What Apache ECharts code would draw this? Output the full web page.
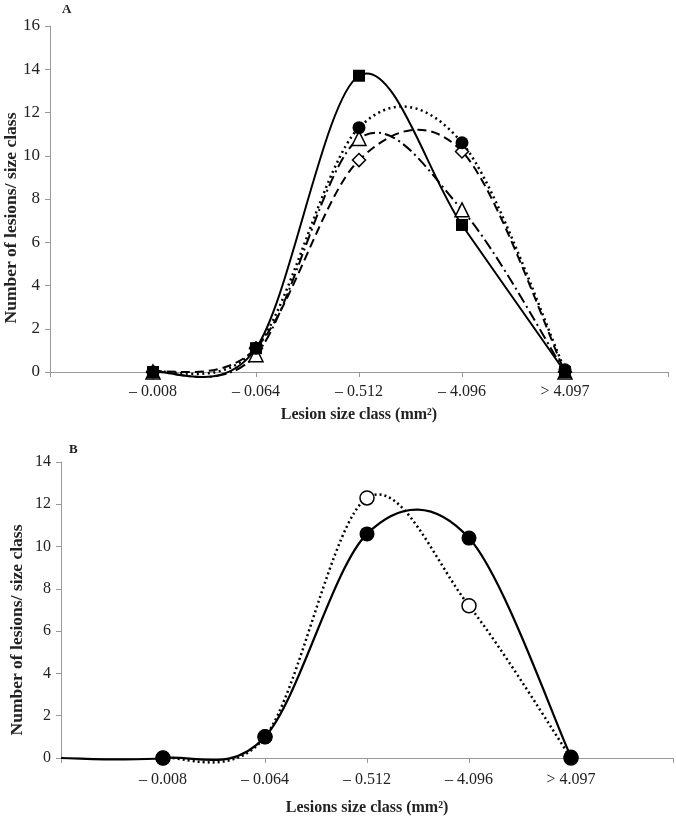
<!DOCTYPE html>
<html><head><meta charset="utf-8">
<script src="https://cdn.jsdelivr.net/npm/echarts@6/dist/echarts.min.js"></script>
<style>html,body{margin:0;padding:0;background:#fff}#c{width:676px;height:817px}</style>
</head><body><div id="c"></div>
<script>
var categories = ['', '\u2013 0.008', '\u2013 0.064', '\u2013 0.512', '\u2013 4.096', '> 4.097', ''];
// Panel A
var aSquare   = [null, 0, 1.1, 13.7, 6.8, 0, null];
var aCircle   = [null, 0, 1.1, 11.3, 10.6, 0.1, null];
var aTriangle = [null, 0, 0.8, 10.8, 7.5, 0, null];
var aDiamond  = [null, 0, 1.1, 9.8, 10.2, 0, null];
// Panel B (first value is the unmarked line start at the axis)
var bFilled = [0, 0, 1.0, 10.6, 10.4, 0.05, null];
var bOpen   = [null, 0, 1.0, 12.3, 7.2, 0, null];
var aTicks = {min: 0, max: 16, interval: 2};
var bTicks = {min: 0, max: 14, interval: 2};
var yName = 'Number of lesions/ size class';

var FONT = 'Liberation Serif';
var chart = echarts.init(document.getElementById('c'));
function xAx(gi, name, margin, gap) {
  return {
    type: 'category', gridIndex: gi, data: categories, boundaryGap: false,
    axisLine: {lineStyle: {color: '#999', width: 1}},
    axisTick: {show: true, length: 5, lineStyle: {color: '#999'}},
    axisLabel: {color: '#222', fontFamily: FONT, fontSize: 16, margin: margin, interval: 0},
    name: name, nameLocation: 'middle', nameGap: gap,
    nameTextStyle: {color: '#222', fontFamily: FONT, fontSize: 16, fontWeight: 'bold'}
  };
}
function yAx(gi, t, fs) {
  return {
    type: 'value', gridIndex: gi, min: t.min, max: t.max, interval: t.interval,
    axisLine: {show: true, lineStyle: {color: '#999', width: 1}},
    axisTick: {show: true, length: 5, lineStyle: {color: '#999'}},
    splitLine: {show: false},
    axisLabel: {color: '#222', fontFamily: FONT, fontSize: fs, margin: 10}
  };
}
// marker-only series
function marks(xi, data, symbol, size, fill, skipFirst) {
  return {
    type: 'line', xAxisIndex: xi, yAxisIndex: xi, data: data,
    symbol: function (v, p) { return (skipFirst && p.dataIndex === 0) ? 'none' : symbol; },
    symbolSize: size, showSymbol: true, connectNulls: false,
    itemStyle: {color: fill, borderColor: '#000', borderWidth: fill === '#fff' ? 1.5 : 0},
    lineStyle: {opacity: 0}, z: 5, animation: false
  };
}
// smoothed curve through the values (Catmull-Rom style, drawn with axis coords)
function curve(xi, values, dash, lw) {
  return {
    type: 'custom', xAxisIndex: xi, yAxisIndex: xi, data: [[0, 0]], clip: false, z: 3,
    animation: false, silent: true,
    renderItem: function (params, api) {
      var pts = [];
      for (var i = 0; i < values.length; i++) {
        if (values[i] != null) pts.push(api.coord([i, values[i]]));
      }
      var d = 'M' + pts[0][0] + ' ' + pts[0][1];
      for (var k = 0; k < pts.length - 1; k++) {
        var p0 = pts[Math.max(k - 1, 0)], p1 = pts[k], p2 = pts[k + 1], p3 = pts[Math.min(k + 2, pts.length - 1)];
        var c1x = p1[0] + (p2[0] - p0[0]) / 6, c1y = p1[1] + (p2[1] - p0[1]) / 6;
        var c2x = p2[0] - (p3[0] - p1[0]) / 6, c2y = p2[1] - (p3[1] - p1[1]) / 6;
        d += ' C' + c1x + ' ' + c1y + ' ' + c2x + ' ' + c2y + ' ' + p2[0] + ' ' + p2[1];
      }
      return {
        type: 'path', shape: {pathData: d},
        style: {fill: 'none', stroke: '#000', lineWidth: lw, lineDash: dash, lineCap: 'butt'}
      };
    }
  };
}
chart.setOption({
  animation: false,
  grid: [
    {left: 50, right: 8, top: 26, height: 346, containLabel: false},
    {left: 61, right: 3, top: 462, height: 301, containLabel: false}
  ],
  xAxis: [xAx(0, 'Lesion size class (mm\u00b2)', 12, 35), xAx(1, 'Lesions size class (mm\u00b2)', 14, 42)],
  yAxis: [yAx(0, aTicks, 17), yAx(1, bTicks, 16)],
  graphic: [
    {type: 'text', x: 62, y: 3, style: {text: 'A', font: 'bold 13px "Liberation Serif"', fill: '#222'}},
    {type: 'text', x: 69, y: 443, style: {text: 'B', font: 'bold 13px "Liberation Serif"', fill: '#222'}},
    {type: 'text', x: 11, y: 218, rotation: Math.PI / 2,
      style: {text: yName, font: 'bold 17.5px "Liberation Serif"', fill: '#222', textAlign: 'center', textVerticalAlign: 'middle'}},
    {type: 'text', x: 17, y: 630, rotation: Math.PI / 2,
      style: {text: yName, font: 'bold 17.5px "Liberation Serif"', fill: '#222', textAlign: 'center', textVerticalAlign: 'middle'}}
  ],
  series: [
    curve(0, aDiamond, [9, 5], 2),
    curve(0, aTriangle, [11, 4, 2, 4], 2),
    curve(0, aCircle, [2, 3.5], 2.5),
    curve(0, aSquare, null, 2),
    curve(1, bOpen, [2, 3], 2.5),
    curve(1, bFilled, null, 2.2),
    marks(0, aDiamond, 'diamond', 13, '#fff'),
    marks(0, aTriangle, 'triangle', 14, '#fff'),
    marks(0, aCircle, 'circle', 13, '#000'),
    marks(0, aSquare, 'rect', 12, '#000'),
    marks(1, bOpen, 'circle', 14, '#fff'),
    marks(1, bFilled, 'circle', 15, '#000', true)
  ]
});
</script></body></html>
